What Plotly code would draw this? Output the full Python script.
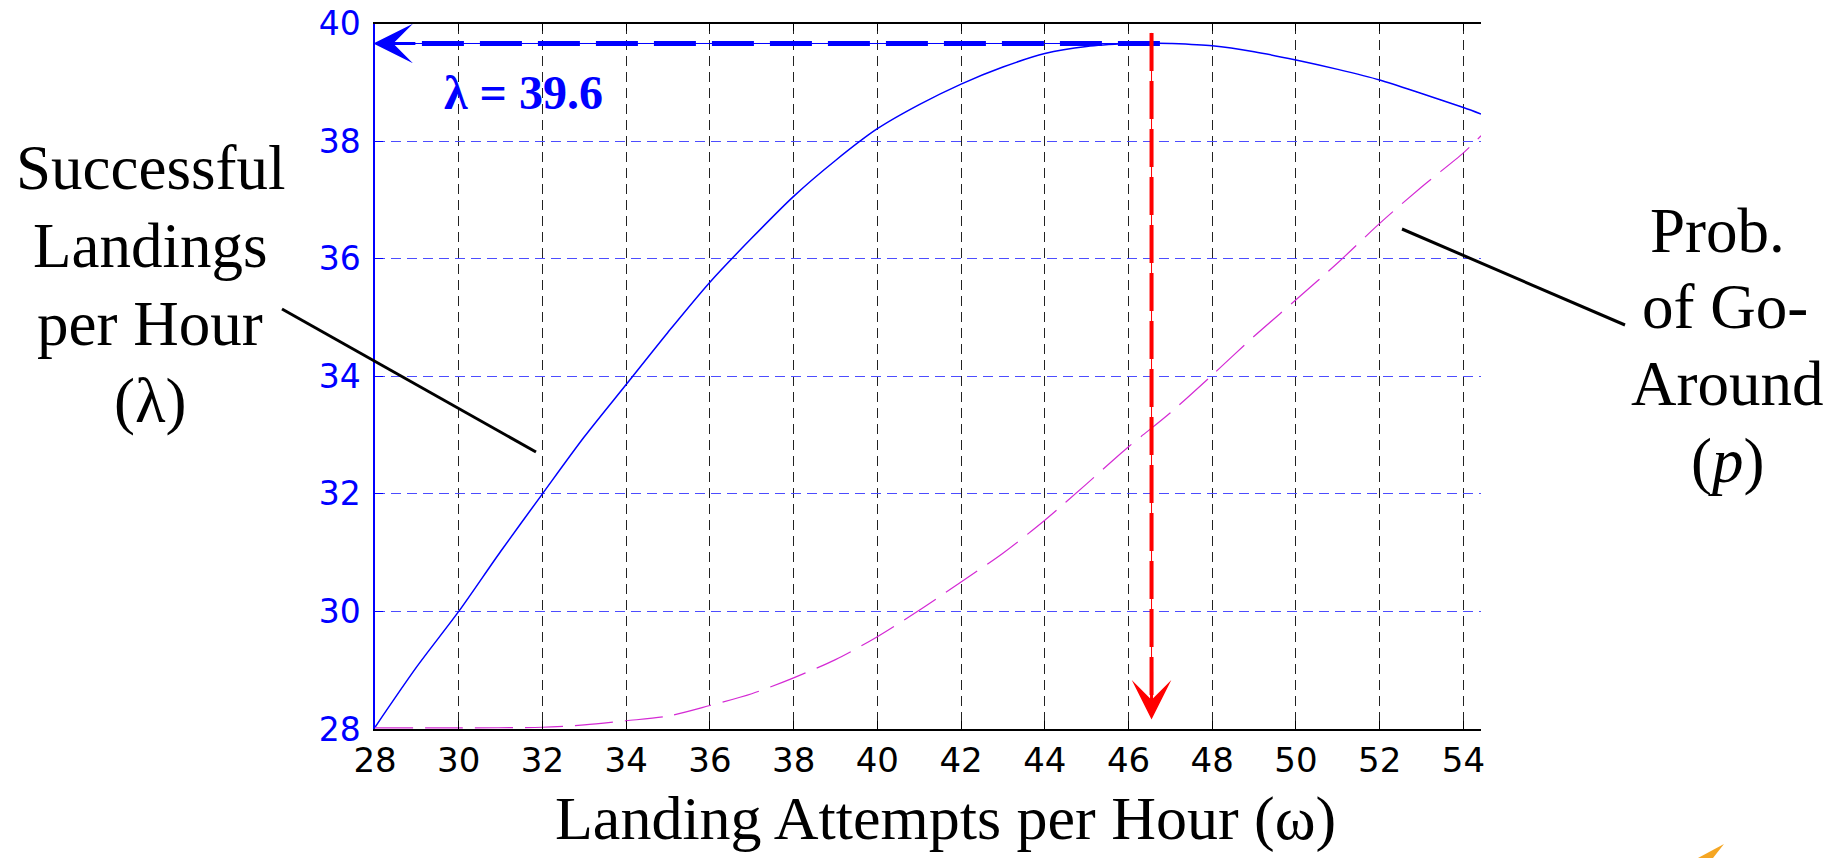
import plotly.graph_objects as go

# ---------------- data ----------------
omega = [28, 29, 30, 31, 32, 33, 34, 35, 36, 37, 38, 39, 40, 41, 42, 43, 44,
         45, 46, 46.5, 47, 48, 49, 50, 51, 52, 53, 54, 54.42]
lam = [28.03, 29.06, 30.0, 31.02, 32.0, 32.97, 33.86, 34.75, 35.6, 36.35, 37.06,
       37.67, 38.21, 38.62, 38.97, 39.26, 39.49, 39.61, 39.66, 39.67, 39.66,
       39.62, 39.52, 39.38, 39.22, 39.04, 38.81, 38.57, 38.46]

omega_p = [28, 30, 32, 33, 34, 35, 36, 37, 38, 39, 40, 41, 42, 43, 44, 45, 46,
           47, 48, 49, 50, 51, 52, 53, 54, 54.42]
p_curve = [28.02, 28.02, 28.03, 28.07, 28.14, 28.22, 28.4, 28.6, 28.87, 29.18,
           29.57, 30.02, 30.5, 30.99, 31.55, 32.17, 32.8, 33.38, 34.02, 34.68,
           35.3, 35.93, 36.6, 37.22, 37.8, 38.09]

omega_opt = 46.55          # optimum landing attempts
lam_opt = 39.66            # lambda at optimum
lam_label = "λ = 39.6"

x_ticks = list(range(28, 55, 2))
y_ticks = list(range(28, 41, 2))
x_range = [28, 54.42]
y_range = [28, 40]

# ---------------- geometry helpers (canvas pixels -> paper) ----------------
W, H = 1839, 858
def px(x):
    return x / W
def py(y):
    return 1 - y / H

BLUE = "#0000ff"
RED = "#ff0000"
MAG = "#d42ad4"
SERIF = "Liberation Serif, Times New Roman, serif"
SANS = "DejaVu Sans, Verdana, sans-serif"
TFS = 63

fig = go.Figure()

# successful landings curve
fig.add_trace(go.Scatter(x=omega, y=lam, mode="lines",
                         line=dict(color=BLUE, width=1.5, shape="spline", smoothing=0.8),
                         hoverinfo="skip"))
# probability of go-around curve
fig.add_trace(go.Scatter(x=omega_p, y=p_curve, mode="lines",
                         line=dict(color=MAG, width=1.2, dash="38px,12px",
                                   shape="spline", smoothing=0.8),
                         hoverinfo="skip"))

# horizontal blue arrow (lambda optimum) : thin line + thick dashed
fig.add_trace(go.Scatter(x=[omega_opt + 0.2, x_range[0] + 0.5], y=[lam_opt, lam_opt],
                         mode="lines", line=dict(color=BLUE, width=1),
                         hoverinfo="skip"))
fig.add_trace(go.Scatter(x=[omega_opt + 0.2, x_range[0] + 0.9], y=[lam_opt, lam_opt],
                         mode="lines", line=dict(color=BLUE, width=5, dash="42px,16px"),
                         hoverinfo="skip"))
# vertical red arrow (omega optimum)
fig.add_trace(go.Scatter(x=[omega_opt, omega_opt], y=[39.84, 28.4],
                         mode="lines", line=dict(color=RED, width=1),
                         hoverinfo="skip"))
fig.add_trace(go.Scatter(x=[omega_opt, omega_opt], y=[39.84, 28.5],
                         mode="lines", line=dict(color=RED, width=4, dash="38px,10px"),
                         hoverinfo="skip"))

annotations = []
# arrow heads
annotations.append(dict(x=27.96, y=lam_opt, ax=29.0, ay=lam_opt, xref="x", yref="y",
                        axref="x", ayref="y", text="", showarrow=True, arrowhead=3,
                        arrowwidth=3, arrowsize=2.2, arrowcolor=BLUE, standoff=0))
annotations.append(dict(x=omega_opt, y=28.16, ax=omega_opt, ay=29.0, xref="x", yref="y",
                        axref="x", ayref="y", text="", showarrow=True, arrowhead=3,
                        arrowwidth=3, arrowsize=2.2, arrowcolor=RED, standoff=0))

# lambda label
annotations.append(dict(x=px(523), y=py(108 - 16), xref="paper", yref="paper",
                        text="<b>" + lam_label + "</b>", showarrow=False,
                        font=dict(family=SERIF, size=48, color=BLUE),
                        xanchor="center", yanchor="middle"))

# left label lines
left_lines = ["Successful", "Landings", "per Hour", "(λ)"]
left_base = [189, 267, 345, 422]
for t, b in zip(left_lines, left_base):
    annotations.append(dict(x=px(150), y=py(b - 21), xref="paper", yref="paper",
                            text=t, showarrow=False,
                            font=dict(family=SERIF, size=TFS, color="black"),
                            xanchor="center", yanchor="middle"))

# right label lines
right_lines = ["Prob.", "of Go-", "Around", "(<i>p</i>)"]
right_base = [252, 328, 405, 482]
right_cx = [1717, 1725, 1727, 1727]
for t, b, cx in zip(right_lines, right_base, right_cx):
    annotations.append(dict(x=px(cx), y=py(b - 21), xref="paper", yref="paper",
                            text=t, showarrow=False,
                            font=dict(family=SERIF, size=TFS, color="black"),
                            xanchor="center", yanchor="middle"))

# x-axis title (kept fully inside the canvas)
annotations.append(dict(x=px(946), y=py(818), xref="paper", yref="paper",
                        text="Landing Attempts per Hour (ω)", showarrow=False,
                        font=dict(family=SERIF, size=62, color="black"),
                        xanchor="center", yanchor="middle"))

shapes = [
    # leader lines
    dict(type="line", xref="paper", yref="paper", x0=px(282), y0=py(309),
         x1=px(536), y1=py(452), line=dict(color="black", width=3)),
    dict(type="line", xref="paper", yref="paper", x0=px(1402), y0=py(229),
         x1=px(1625), y1=py(325), line=dict(color="black", width=3)),
    # small orange decoration at bottom right
    dict(type="path", xref="paper", yref="paper",
         path=f"M {px(1698)},{py(858)} L {px(1724)},{py(844)} L {px(1713)},{py(858)} Z",
         fillcolor="#f5a623", line=dict(width=0)),
]

fig.update_layout(
    width=W, height=H,
    margin=dict(l=0, r=0, t=0, b=0, pad=0, autoexpand=False),
    paper_bgcolor="white", plot_bgcolor="white",
    showlegend=False,
    annotations=annotations,
    shapes=shapes,
    xaxis=dict(
        domain=[px(375), px(1481)], range=x_range, tickmode="array",
        tickvals=x_ticks, ticktext=[str(v) for v in x_ticks], automargin=False,
        showline=True, linecolor="black", linewidth=1.5, mirror="ticks",
        ticks="inside", ticklen=8, tickcolor="black", tickwidth=1,
        showgrid=True, gridcolor="#222222", gridwidth=1, griddash="10px,6px",
        zeroline=False, tickfont=dict(family=SANS, size=34, color="black"),
        ticklabelstandoff=0,
    ),
    yaxis=dict(
        domain=[py(729), py(23.5)], range=y_range, tickmode="array",
        tickvals=y_ticks, ticktext=[str(v) for v in y_ticks], automargin=False,
        showline=True, linecolor=BLUE, linewidth=1.5, mirror=False,
        ticks="inside", ticklen=8, tickcolor=BLUE, tickwidth=1,
        showgrid=True, gridcolor="#4d4dff", gridwidth=1, griddash="10px,6px",
        zeroline=False, tickfont=dict(family=SANS, size=33, color=BLUE),
        ticklabelstandoff=6,
    ),
)

fig.write_html("out.html", config={"displayModeBar": False})
